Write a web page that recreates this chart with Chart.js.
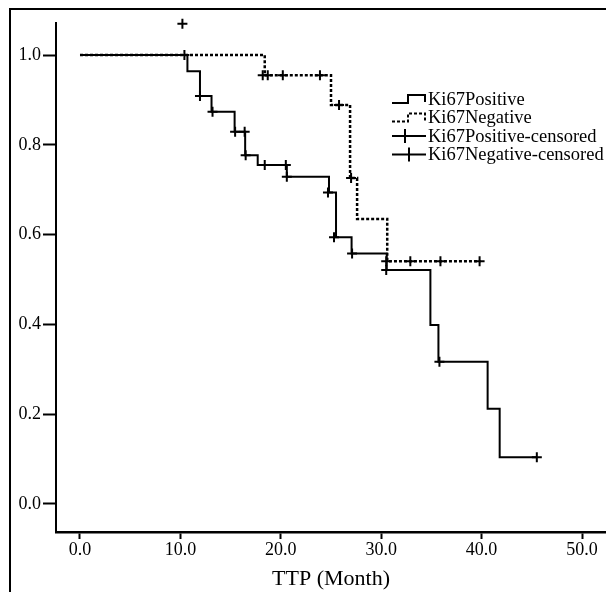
<!DOCTYPE html>
<html lang="en">
<head>
  <meta charset="UTF-8" />
  <title>Ki67 TTP Kaplan-Meier</title>
  <script src="https://cdn.jsdelivr.net/npm/chart.js"></script>
  <style>
    html, body { margin: 0; padding: 0; background: #fff; }
    #wrap { position: relative; width: 606px; height: 592px; overflow: hidden; }
    #frame { position: absolute; left: 9px; top: 8px; width: 700px; height: 700px;
             border-left: 2.5px solid #000; border-top: 2.5px solid #000; }
    canvas { position: absolute; left: 0; top: 0; }
  </style>
</head>
<body>
  <div id="wrap">
    <div id="frame"></div>
    <canvas id="km" width="606" height="592"></canvas>
  </div>

  <script>
    // Kaplan-Meier steps (time in months, survival)
    const posTimes = [0, 10.7, 11.95, 13.1, 15.4, 16.45, 17.7, 20.6, 24.8, 25.5, 27.05, 30.55, 34.9, 35.7, 40.6, 41.8, 45.5];
    const posSurv  = [1.0, 0.964, 0.909, 0.874, 0.829, 0.777, 0.755, 0.729, 0.694, 0.594, 0.558, 0.521, 0.399, 0.317, 0.212, 0.104, 0.104];
    const negTimes = [0, 18.4, 25.0, 26.9, 27.6, 30.6, 39.9];
    const negSurv  = [1.0, 0.955, 0.889, 0.726, 0.635, 0.541, 0.541];

    // censored marks
    const posCensT = [10.2, 10.4, 11.95, 13.2, 15.45, 16.4, 16.5, 18.4, 20.5, 20.6, 24.7, 25.3, 27.1, 30.5, 35.8, 45.5];
    const posCensS = [1.07, 1.0, 0.909, 0.874, 0.829, 0.829, 0.777, 0.755, 0.755, 0.729, 0.694, 0.594, 0.558, 0.521, 0.317, 0.104];
    const negCensT = [18.2, 18.7, 20.2, 23.9, 25.8, 27.0, 30.5, 32.9, 35.9, 39.8];
    const negCensS = [0.955, 0.955, 0.955, 0.955, 0.889, 0.726, 0.541, 0.541, 0.541, 0.541];

    const xTicks = [0, 10, 20, 30, 40, 50];
    const yTicks = [0, 0.2, 0.4, 0.6, 0.8, 1.0];
    const legendLabels = ['Ki67Positive', 'Ki67Negative', 'Ki67Positive-censored', 'Ki67Negative-censored'];

    const serif = '"Liberation Serif", "DejaVu Serif", serif';
    const toXY = (xs, ys) => xs.map((x, i) => ({ x: x, y: ys[i] }));

    // legend drawn inside the plot, with step icons like the original
    const kmLegend = {
      id: 'kmLegend',
      afterDraw(chart) {
        const c = chart.ctx;
        c.save();
        c.strokeStyle = '#000';
        c.fillStyle = '#000';
        c.font = '18.5px ' + serif;
        c.textBaseline = 'middle';
        legendLabels.forEach((txt, i) => {
          const y = 99 + i * 18.5;
          const x0 = 392;
          c.lineWidth = 2;
          c.setLineDash(i === 1 ? [3, 2] : []);
          c.beginPath();
          if (i < 2) {
            c.moveTo(x0, y + 4);
            c.lineTo(x0 + 16, y + 4);
            c.lineTo(x0 + 16, y - 4);
            c.lineTo(x0 + 33, y - 4);
            c.lineTo(x0 + 33, y + 3);
          } else {
            c.moveTo(x0, y);
            c.lineTo(x0 + 34, y);
            const cx = x0 + (i === 2 ? 13 : 17);
            c.moveTo(cx, y - 7);
            c.lineTo(cx, y + 7);
          }
          c.stroke();
          c.setLineDash([]);
          c.fillText(txt, x0 + 36, y + 1);
        });
        c.restore();
      }
    };

    const ctx = document.getElementById('km');
    new Chart(ctx, {
      type: 'scatter',
      data: {
        datasets: [
          {
            label: 'Ki67Negative',
            data: toXY(negTimes, negSurv),
            showLine: true, stepped: true,
            borderColor: '#000', borderWidth: 2.5, borderDash: [3, 2],
            pointRadius: 0, order: 3
          },
          {
            label: 'Ki67Positive',
            data: toXY(posTimes, posSurv),
            showLine: true, stepped: true,
            borderColor: '#000', borderWidth: 2,
            pointRadius: 0, order: 2
          },
          {
            label: 'Ki67Positive-censored',
            data: toXY(posCensT, posCensS),
            showLine: false,
            pointStyle: 'cross', pointRadius: 5, pointBorderWidth: 2,
            borderColor: '#000', backgroundColor: '#000', order: 1, clip: false
          },
          {
            label: 'Ki67Negative-censored',
            data: toXY(negCensT, negCensS),
            showLine: false,
            pointStyle: 'cross', pointRadius: 5, pointBorderWidth: 2,
            borderColor: '#000', backgroundColor: '#000', order: 0, clip: false
          }
        ]
      },
      options: {
        responsive: false,
        animation: false,
        layout: { autoPadding: false, padding: { top: 23, left: 0, right: 0, bottom: 0 } },
        plugins: { legend: { display: false }, tooltip: { enabled: false } },
        scales: {
          x: {
            type: 'linear', min: -2.39, max: 52.39,
            afterBuildTicks: s => { s.ticks = xTicks.map(v => ({ value: v })); },
            afterFit: s => { s.height = 60; s.paddingRight = 0; s.paddingLeft = 0; },
            ticks: {
              callback: v => Number(v).toFixed(1),
              font: { family: serif, size: 18 }, color: '#000',
              padding: 0, maxRotation: 0, autoSkip: false
            },
            grid: { drawOnChartArea: false, drawTicks: true, tickLength: 7, tickWidth: 2, color: '#000' },
            border: { display: true, color: '#000', width: 2.5 },
            title: { display: true, text: 'TTP (Month)', font: { family: serif, size: 22 }, color: '#000', padding: { top: 4, bottom: 0 } }
          },
          y: {
            type: 'linear', min: -0.0624, max: 1.0715,
            afterBuildTicks: s => { s.ticks = yTicks.map(v => ({ value: v })); },
            afterFit: s => { s.width = 56; s.paddingTop = 0; s.paddingBottom = 0; },
            ticks: {
              callback: v => Number(v).toFixed(1),
              font: { family: serif, size: 18 }, color: '#000',
              padding: 2, autoSkip: false
            },
            grid: { drawOnChartArea: false, drawTicks: true, tickLength: 13, tickWidth: 2, color: '#000' },
            border: { display: true, color: '#000', width: 2 }
          }
        }
      },
      plugins: [kmLegend]
    });
  </script>
</body>
</html>
